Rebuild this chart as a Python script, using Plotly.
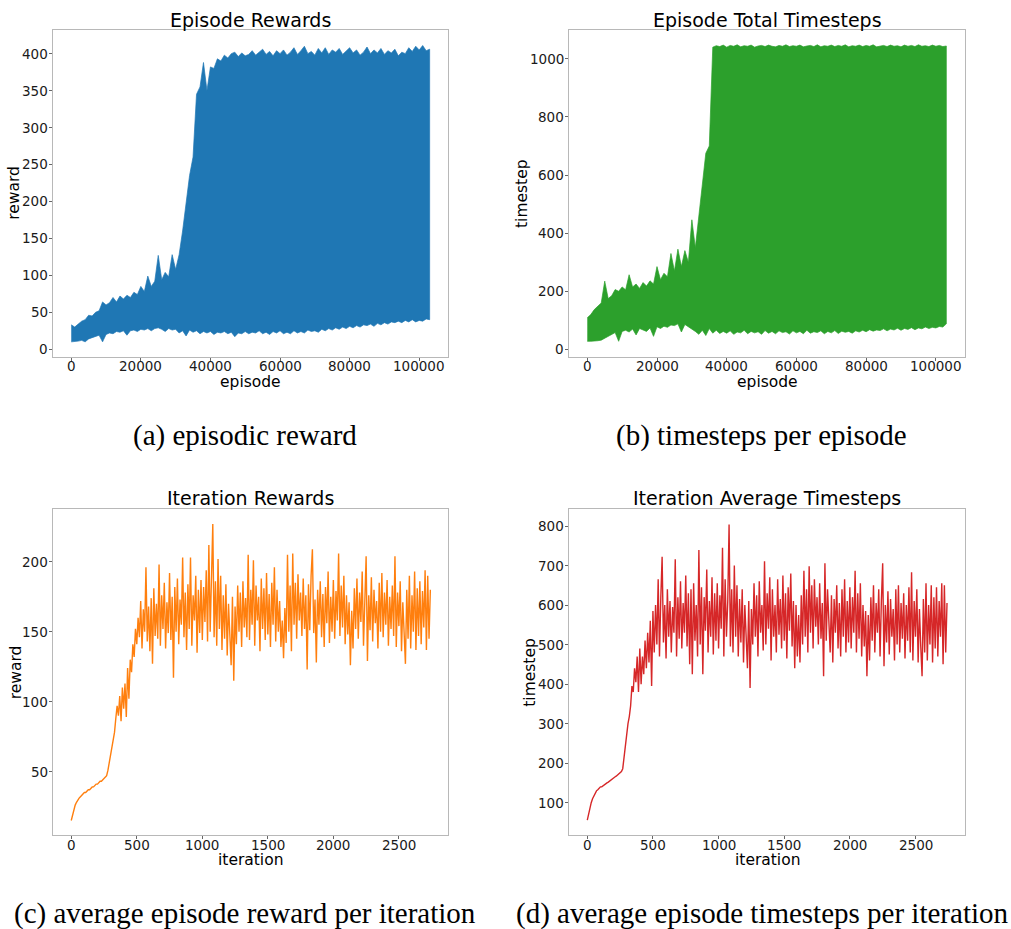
import plotly.graph_objects as go

W, H = 1011, 929

# ---------------- episode-level data (band envelopes, every 1000 episodes) ----------------
episodes = list(range(0, 104000, 1000))

reward_upper = [33, 30, 34, 38, 40, 46, 45, 50, 52, 64, 60, 63, 70, 64, 72, 68, 73, 70, 77, 74,
                85, 78, 99, 85, 92, 127, 94, 104, 98, 128, 108, 128, 160, 195, 235, 260, 345, 355, 388, 350,
                382, 380, 393, 390, 398, 394, 400, 402, 396, 401, 397, 399, 404, 398, 402, 406, 399, 403, 397, 404,
                400, 405, 398, 402, 408, 399, 404, 410, 400, 403, 398, 407, 401, 408, 399, 405, 402, 407, 399, 404,
                408, 401, 405, 398, 402, 409, 400, 405, 401, 407, 399, 404, 401, 406, 397, 402, 400, 408, 403, 410,
                405, 411, 404, 406]
reward_lower = [10, 10, 11, 12, 10, 14, 16, 17, 19, 10, 20, 22, 21, 24, 23, 25, 19, 25, 26, 24,
                27, 26, 28, 25, 28, 29, 27, 24, 28, 26, 27, 22, 25, 18, 26, 23, 25, 21, 24, 22,
                24, 20, 23, 22, 24, 21, 23, 17, 22, 21, 24, 21, 23, 22, 25, 21, 23, 20, 24, 22,
                25, 21, 23, 21, 25, 22, 24, 22, 26, 24, 25, 23, 27, 25, 28, 26, 29, 27, 30, 28,
                31, 29, 32, 30, 33, 32, 34, 31, 35, 33, 36, 34, 37, 36, 38, 36, 39, 37, 40, 37,
                39, 38, 41, 40]

steps_upper = [109, 120, 137, 150, 160, 235, 175, 185, 206, 200, 215, 205, 257, 215, 225, 210, 230, 218, 236, 225,
               285, 240, 262, 250, 330, 270, 345, 285, 340, 300, 446, 350, 460, 565, 675, 700, 1040, 1045, 1042, 1047,
               1040, 1046, 1043, 1048, 1041, 1045, 1043, 1047, 1040, 1044, 1046, 1042, 1047, 1043, 1041, 1046, 1043, 1048, 1042, 1045,
               1043, 1047, 1041, 1044, 1046, 1042, 1048, 1041, 1045, 1043, 1047, 1042, 1046, 1043, 1048, 1041, 1045, 1043, 1047, 1042,
               1046, 1043, 1048, 1041, 1044, 1046, 1042, 1047, 1043, 1045, 1041, 1047, 1043, 1046, 1042, 1048, 1043, 1045, 1042, 1047,
               1043, 1046, 1042, 1044]
steps_lower = [28, 28, 28, 30, 32, 38, 45, 52, 58, 28, 62, 66, 60, 70, 50, 72, 68, 62, 74, 45,
               78, 72, 80, 76, 84, 82, 88, 60, 86, 80, 70, 62, 52, 66, 48, 72, 56, 66, 55, 62,
               56, 64, 52, 60, 57, 66, 54, 62, 57, 61, 52, 65, 56, 62, 54, 64, 58, 61, 53, 64,
               57, 62, 54, 66, 56, 61, 58, 64, 54, 62, 57, 65, 55, 63, 59, 62, 56, 64, 60, 66,
               61, 68, 63, 67, 65, 71, 64, 70, 67, 73, 66, 72, 69, 75, 68, 74, 71, 77, 72, 76,
               74, 79, 77, 88]

# ---------------- iteration-level data (every 10 iterations) ----------------
iterations = list(range(0, 2750, 10))

iter_reward = [15, 19, 23, 26, 28, 30, 31, 32, 33, 34, 35, 35, 36, 37, 37, 38, 39, 39, 40, 41,
               41, 42, 43, 43, 44, 45, 46, 47, 51, 57, 63, 68, 73, 78, 88, 97, 90, 104, 86, 110,
               95, 113, 89, 124, 102, 130, 121, 141, 132, 152, 141, 160, 146, 172, 138, 166, 150, 196, 143, 168,
               136, 174, 127, 181, 147, 170, 145, 198, 140, 176, 152, 185, 138, 171, 149, 192, 144, 175, 117, 182,
               150, 188, 141, 173, 155, 203, 146, 178, 137, 184, 152, 203, 140, 176, 158, 190, 135, 180, 149, 187,
               144, 182, 157, 194, 143, 212, 150, 180, 227, 146, 186, 140, 202, 152, 190, 137, 176, 145, 184, 133,
               170, 148, 126, 175, 115, 168, 141, 183, 150, 178, 139, 186, 153, 174, 146, 205, 144, 180, 155, 201,
               140, 183, 158, 175, 136, 188, 152, 181, 144, 192, 148, 177, 139, 185, 155, 196, 143, 180, 150, 172,
               139, 158, 131, 167, 142, 205, 150, 183, 136, 206, 155, 185, 145, 191, 158, 178, 147, 188, 152, 176,
               123, 184, 151, 190, 209, 149, 173, 128, 180, 155, 186, 146, 177, 139, 182, 156, 193, 142, 175, 150,
               187, 145, 179, 158, 206, 147, 183, 153, 190, 141, 176, 148, 171, 126, 165, 138, 181, 152, 188, 145,
               178, 157, 193, 140, 182, 204, 129, 176, 151, 189, 143, 180, 156, 172, 138, 185, 150, 192, 146, 178,
               155, 187, 140, 175, 152, 183, 147, 204, 139, 178, 154, 186, 136, 171, 149, 127, 180, 145, 190, 138,
               176, 150, 193, 137, 181, 147, 186, 141, 179, 153, 194, 137, 190, 145, 180]

iter_steps = [56, 72, 88, 100, 110, 118, 124, 130, 133, 137, 140, 140, 143, 145, 147, 150, 152, 155, 157, 160,
              162, 165, 167, 170, 172, 175, 179, 186, 215, 250, 275, 300, 318, 345, 395, 380, 440, 405, 470, 380,
              490, 400, 470, 425, 510, 440, 530, 455, 560, 395, 585, 480, 600, 500, 665, 470, 620, 722, 505, 600,
              465, 640, 520, 610, 480, 595, 530, 716, 470, 620, 515, 660, 490, 605, 530, 675, 495, 630, 450, 640,
              425, 655, 510, 600, 470, 739, 500, 645, 425, 620, 535, 690, 480, 610, 520, 670, 475, 630, 510, 655,
              490, 625, 540, 745, 470, 665, 520, 610, 804, 495, 640, 480, 700, 520, 650, 470, 615, 505, 640, 455,
              600, 515, 440, 610, 390, 590, 500, 655, 520, 625, 470, 660, 530, 600, 485, 711, 500, 630, 540, 670,
              460, 640, 520, 600, 480, 665, 525, 615, 490, 675, 510, 630, 465, 645, 535, 680, 495, 610, 440, 600,
              470, 575, 455, 625, 500, 687, 520, 640, 480, 698, 530, 650, 490, 665, 545, 620, 500, 655, 515, 605,
              420, 706, 510, 640, 560, 480, 625, 455, 615, 530, 650, 490, 605, 470, 640, 520, 665, 480, 610, 505,
              645, 490, 620, 530, 687, 480, 630, 515, 655, 470, 600, 495, 585, 420, 575, 460, 620, 510, 650, 480,
              605, 530, 640, 470, 610, 706, 445, 600, 505, 635, 475, 615, 520, 590, 460, 640, 500, 650, 480, 605,
              515, 630, 465, 600, 510, 645, 480, 683, 460, 610, 520, 640, 455, 590, 495, 420, 615, 480, 655, 460,
              600, 500, 650, 455, 620, 490, 645, 470, 610, 520, 655, 450, 650, 480, 605]

# ---------------- tick labels ----------------
episode_ticks = [0, 20000, 40000, 60000, 80000, 100000]
iteration_ticks = [0, 500, 1000, 1500, 2000, 2500]
reward_ep_ticks = [0, 50, 100, 150, 200, 250, 300, 350, 400]
steps_ep_ticks = [0, 200, 400, 600, 800, 1000]
reward_it_ticks = [50, 100, 150, 200]
steps_it_ticks = [100, 200, 300, 400, 500, 600, 700, 800]

titles = ["Episode Rewards", "Episode Total Timesteps", "Iteration Rewards", "Iteration Average Timesteps"]
captions = ["(a) episodic reward", "(b) timesteps per episode",
            "(c) average episode reward per iteration", "(d) average episode timesteps per iteration"]

BLUE, GREEN, ORANGE, RED = "#1f77b4", "#2ca02c", "#ff7f0e", "#d62728"
SANS = "DejaVu Sans"
SERIF = "Liberation Serif"
TICK_SIZE = 13.5
LABEL_SIZE = 15.5

# panel frames in pixels: (left, right, top, bottom)
frames = [(53.3, 448.3, 30.0, 356.7), (569.3, 965.0, 30.0, 357.0),
          (53.3, 448.3, 509.2, 835.3), (569.3, 965.0, 509.2, 835.3)]


def px_x(v):
    return v / W


def px_y(v):
    return 1 - v / H


fig = go.Figure()

# episode bands: polygon upper edge forward, lower edge back
fig.add_trace(go.Scatter(x=episodes + episodes[::-1], y=reward_upper + reward_lower[::-1],
                         mode="lines", fill="toself", fillcolor=BLUE,
                         line=dict(color=BLUE, width=0.7), xaxis="x", yaxis="y", hoverinfo="skip"))
fig.add_trace(go.Scatter(x=episodes + episodes[::-1], y=steps_upper + steps_lower[::-1],
                         mode="lines", fill="toself", fillcolor=GREEN,
                         line=dict(color=GREEN, width=0.7), xaxis="x2", yaxis="y2", hoverinfo="skip"))
fig.add_trace(go.Scatter(x=iterations, y=iter_reward, mode="lines",
                         line=dict(color=ORANGE, width=1.4), xaxis="x3", yaxis="y3"))
fig.add_trace(go.Scatter(x=iterations, y=iter_steps, mode="lines",
                         line=dict(color=RED, width=1.4), xaxis="x4", yaxis="y4"))

axis_common = dict(showgrid=False, zeroline=False, showline=True, mirror=True,
                   linecolor="#b8b8b8", linewidth=1, ticks="outside", ticklen=3,
                   tickcolor="#666666", tickwidth=1, showticklabels=False)

xranges = [[-5160, 108360], [-5160, 108360], [-137, 2877], [-137, 2877]]
yranges = [[-10.1, 432], [-26, 1099], [4.4, 237.6], [17.5, 842.5]]
xticks = [episode_ticks, episode_ticks, iteration_ticks, iteration_ticks]
yticks = [reward_ep_ticks, steps_ep_ticks, reward_it_ticks, steps_it_ticks]

layout_axes = {}
annotations = []
for i, (l, r, t, b) in enumerate(frames):
    sfx = "" if i == 0 else str(i + 1)
    layout_axes["xaxis" + sfx] = dict(axis_common, domain=[px_x(l), px_x(r)], range=xranges[i],
                                      tickvals=xticks[i], anchor="y" + sfx)
    layout_axes["yaxis" + sfx] = dict(axis_common, domain=[px_y(b), px_y(t)], range=yranges[i],
                                      tickvals=yticks[i], anchor="x" + sfx)
    # tick labels placed just outside the frame
    for v in xticks[i]:
        annotations.append(dict(text=str(v), x=v, xref="x" + sfx, y=px_y(b + 9.3), yref="paper",
                                xanchor="center", yanchor="middle", showarrow=False,
                                font=dict(family=SANS, size=TICK_SIZE, color="#1a1a1a")))
    for v in yticks[i]:
        annotations.append(dict(text=str(v), x=px_x(l - 3.2), xref="paper", y=v, yref="y" + sfx,
                                xanchor="right", yanchor="middle", showarrow=False,
                                font=dict(family=SANS, size=TICK_SIZE, color="#1a1a1a")))

title_y = [19.5, 19.5, 497.5, 497.5]
xlabel_y = [382.5, 382.5, 860.0, 860.0]
ylabel_x = [14.5, 522.5, 16.0, 530.5]
xlabels = ["episode", "episode", "iteration", "iteration"]
ylabels = ["reward", "timestep", "reward", "timestep"]
caption_pos = [(245, 436), (761.5, 436), (245, 913), (761.5, 913)]

for i, (l, r, t, b) in enumerate(frames):
    cx = (l + r) / 2
    cy = (t + b) / 2
    annotations.append(dict(text=titles[i], x=px_x(cx), y=px_y(title_y[i]), xref="paper", yref="paper",
                            xanchor="center", yanchor="middle", showarrow=False,
                            font=dict(family=SANS, size=19, color="#000000")))
    annotations.append(dict(text=xlabels[i], x=px_x(cx), y=px_y(xlabel_y[i]), xref="paper", yref="paper",
                            xanchor="center", yanchor="middle", showarrow=False,
                            font=dict(family=SANS, size=LABEL_SIZE, color="#000000")))
    annotations.append(dict(text=ylabels[i], x=px_x(ylabel_x[i]), y=px_y(cy), xref="paper", yref="paper",
                            xanchor="center", yanchor="middle", showarrow=False, textangle=-90,
                            font=dict(family=SANS, size=LABEL_SIZE, color="#000000")))
    annotations.append(dict(text=captions[i], x=px_x(caption_pos[i][0]), y=px_y(caption_pos[i][1]),
                            xref="paper", yref="paper", xanchor="center", yanchor="middle",
                            showarrow=False, font=dict(family=SERIF, size=29, color="#000000")))

fig.update_layout(width=W, height=H, margin=dict(l=0, r=0, t=0, b=0),
                  paper_bgcolor="white", plot_bgcolor="white", showlegend=False,
                  annotations=annotations, **layout_axes)

fig.write_html("out.html")
